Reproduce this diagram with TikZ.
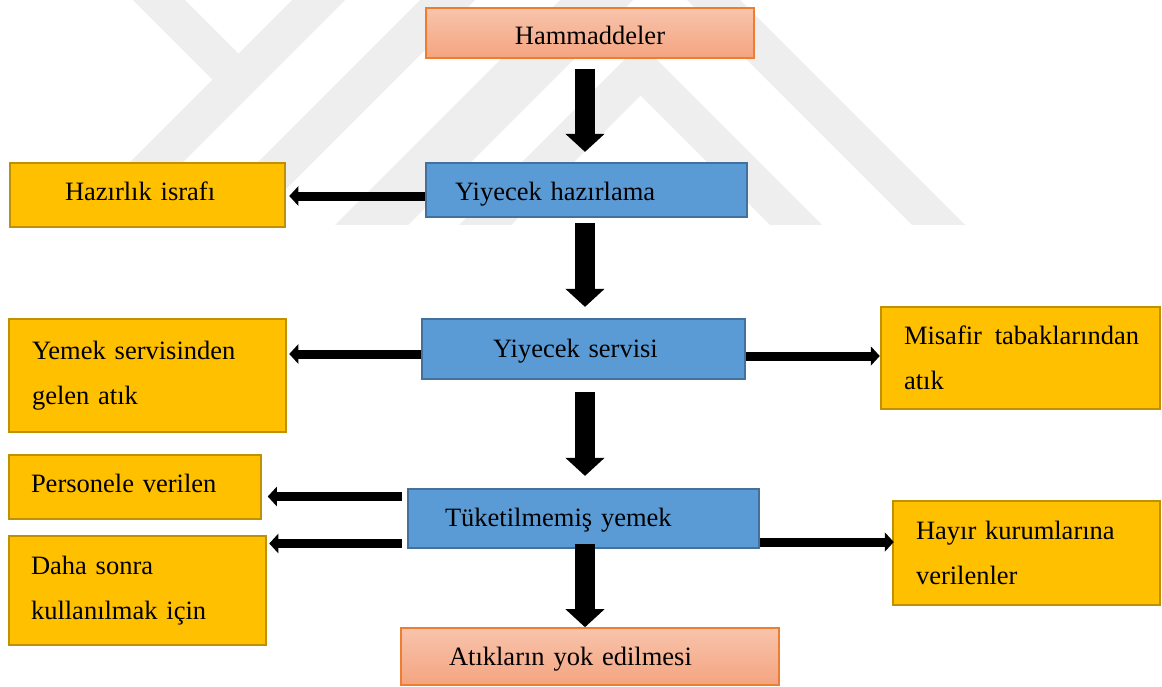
\documentclass[tikz,border=0pt]{standalone}
\usepackage{fontspec}
\setmainfont{Liberation Serif}
\usetikzlibrary{arrows.meta}
\definecolor{wm}{RGB}{238,238,238}
\definecolor{bluefill}{RGB}{91,155,213}
\definecolor{blueline}{RGB}{65,113,156}
\definecolor{goldfill}{RGB}{255,192,0}
\definecolor{goldline}{RGB}{191,144,0}
\definecolor{saltop}{RGB}{248,196,172}
\definecolor{salbot}{RGB}{244,164,128}
\definecolor{salline}{RGB}{237,125,49}
\tikzset{
  box/.style={rectangle, inner ysep=0pt, font=\fontsize{26.5}{45.5}\selectfont, text=black},
  bluebox/.style={box, fill=bluefill, draw=blueline, line width=2.2pt},
  goldbox/.style={box, fill=goldfill, draw=goldline, line width=2.5pt},
  salbox/.style={box, top color=saltop, bottom color=salbot, draw=salline, line width=1.6pt},
  bigarrow/.style={line width=20pt, -{Triangle[width=38pt,length=18pt]}},
  smallarrow/.style={line width=9pt, -{Triangle[width=19pt,length=9pt]}},
}
\begin{document}
\begin{tikzpicture}[x=1pt,y=-1pt]
\useasboundingbox (0,0) rectangle (1162,686);
\fill[white] (0,0) rectangle (1162,686);
% watermark
\begin{scope}
\clip (0,0) rectangle (1162,224);
\fill[wm] (133,0) -- (185,0) -- (238.5,53.5) -- (212.5,79.5) -- cycle;
\fill[wm] (292,0) -- (345,0) -- (120,225) -- (67,225) -- cycle;
\fill[wm] (420,0) -- (475,0) -- (250,225) -- (195,225) -- cycle;
\fill[wm] (560,0) -- (633,0) -- (408,225) -- (335,225) -- cycle;
\fill[wm] (640.5,43.5) -- (822,225) -- (770,225) -- (640.5,95.5) -- (511,225) -- (459,225) -- cycle;
\fill[wm] (687,0) -- (740,0) -- (965,225) -- (912,225) -- cycle;
\end{scope}
% boxes
\node[salbox, minimum width=328pt, minimum height=50pt, text height=22pt, text depth=0pt] (ham) at (590,33) {Hammaddeler};
\node[bluebox, minimum width=321pt, minimum height=54pt, inner xsep=29pt, text width=263pt, align=left, text height=20.4pt, text depth=0pt] (yh) at (586.5,190) {Yiyecek hazırlama};
\node[goldbox, minimum width=275pt, minimum height=64pt, inner xsep=55pt, text width=165pt, align=left, text height=18pt, text depth=8pt] (hi) at (147.5,195) {Hazırlık israfı};
\node[bluebox, minimum width=323pt, minimum height=60pt, inner xsep=71pt, text width=181pt, align=left, text height=16.4pt, text depth=0pt] (ys) at (583.5,349) {Yiyecek servisi};
\node[goldbox, minimum width=277pt, minimum height=113pt, inner xsep=23pt, text width=231pt, align=left] (ya) at (147.5,375.5) {Yemek servisinden\\gelen atık};
\node[goldbox, minimum width=279pt, minimum height=102pt, inner xsep=23pt, text width=233pt, align=left] (mt) at (1020.5,358) {Misafir~\kern4pt tabaklarından\\atık};
\node[goldbox, minimum width=252pt, minimum height=64pt, inner xsep=22pt, text width=208pt, align=left, text height=18pt, text depth=8pt] (pv) at (135,487) {Personele verilen};
\node[goldbox, minimum width=257pt, minimum height=109pt, inner xsep=22pt, text width=213pt, align=left] (ds) at (137.5,590.5) {Daha sonra\\kullanılmak için};
\node[bluebox, minimum width=351pt, minimum height=59pt, inner xsep=37pt, text width=277pt, align=left, text height=16.4pt, text depth=0pt] (ty) at (583.5,518.5) {Tüketilmemiş yemek};
\node[goldbox, minimum width=267pt, minimum height=104pt, inner xsep=23pt, text width=221pt, align=left] (hk) at (1026.5,553) {Hayır kurumlarına\\verilenler};
\node[salbox, minimum width=378pt, minimum height=57pt, inner xsep=48pt, text width=282pt, align=left, text height=18.4pt, text depth=0pt] (ay) at (590,656.5) {Atıkların yok edilmesi};
% vertical arrows
\coordinate (ax) at (585,0);
\draw[bigarrow, shorten <=10pt, shorten >=10pt] (ham.south -| ax) -- (yh.north -| ax);
\draw[bigarrow, shorten <=5pt, shorten >=11pt] (yh.south -| ax) -- (ys.north -| ax);
\draw[bigarrow, shorten <=12pt, shorten >=12pt] (ys.south -| ax) -- (ty.north -| ax);
\draw[bigarrow, shorten <=-5pt, shorten >=0pt] (ty.south -| ax) -- (ay.north -| ax);
% horizontal arrows
\draw[smallarrow, shorten >=3pt] ([yshift=-6pt]yh.west) -- ([yshift=-1pt]hi.east);
\draw[smallarrow, shorten >=2pt] ([yshift=-5pt]ys.west) -- ([yshift=21.5pt]ya.east);
\draw[smallarrow] ([yshift=-7pt]ys.east) -- ([yshift=2pt]mt.west);
\draw[smallarrow, shorten <=5pt, shorten >=5.5pt] ([yshift=22pt]ty.west) -- ([yshift=-9.5pt]pv.east);
\draw[smallarrow, shorten <=5pt, shorten >=2pt] ([yshift=-25pt]ty.west) -- ([yshift=47pt]ds.east);
\draw[smallarrow, shorten >=-2pt] ([yshift=-23.5pt]ty.east) -- ([yshift=11pt]hk.west);
\end{tikzpicture}
\end{document}
